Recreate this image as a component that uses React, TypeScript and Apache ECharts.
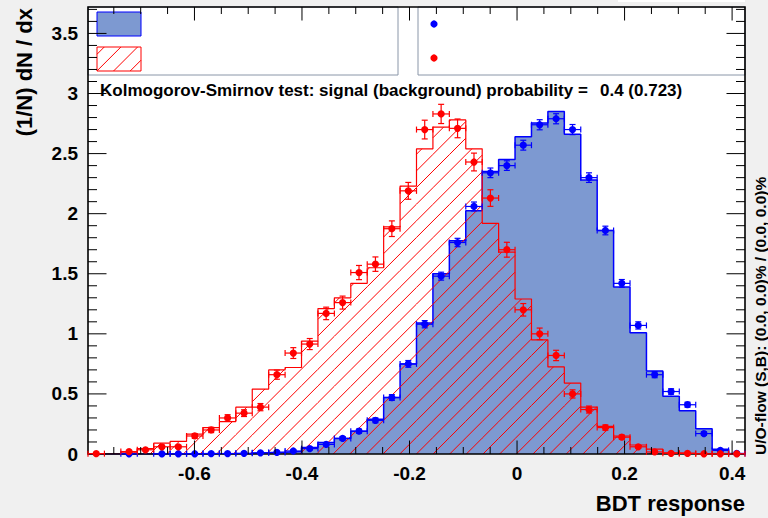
import React, { useEffect, useRef } from 'react';
import * as echarts from 'echarts';

// ---- axis ranges ----
const X_MIN = -0.798;
const X_MAX = 0.424;
const Y_MAX = 3.72;
const N_BINS = 40;
const BIN_W = (X_MAX - X_MIN) / N_BINS;

// ---- tick labels ----
const xTickLabels = [-0.6, -0.4, -0.2, 0, 0.2, 0.4];
const yTickLabels = [0, 0.5, 1, 1.5, 2, 2.5, 3, 3.5];

// ---- histograms (normalised, per bin) ----
const signalHist = [
  0, 0, 0, 0, 0, 0, 0, 0.002, 0.003, 0.005,
  0.01, 0.015, 0.02, 0.055, 0.095, 0.13, 0.19, 0.29, 0.47, 0.75,
  1.09, 1.5, 1.775, 2.025, 2.35, 2.45, 2.64, 2.755, 2.85, 2.66,
  2.28, 1.86, 1.39, 1.01, 0.69, 0.48, 0.36, 0.21, 0.04, 0.003,
];
const backgroundHist = [
  0, 0, 0.015, 0.045, 0.09, 0.105, 0.165, 0.22, 0.27, 0.39,
  0.54, 0.7, 0.72, 0.94, 1.21, 1.3, 1.42, 1.55, 1.89, 2.23,
  2.54, 2.72, 2.78, 2.54, 1.92, 1.68, 1.29, 0.95, 0.725, 0.59,
  0.39, 0.23, 0.15, 0.075, 0.04, 0.01, 0.005, 0.002, 0, 0,
];

// ---- points with errors (null = empty bin) ----
const signalPoints = [
  null, null, 0.002, null, 0.002, 0.002, 0.002, 0.004, 0.004, 0.006,
  0.01, 0.013, 0.025, 0.045, 0.08, 0.13, 0.19, 0.28, 0.47, 0.75,
  1.08, 1.48, 1.76, 2.06, 2.34, 2.4, 2.57, 2.74, 2.79, 2.7,
  2.3, 1.86, 1.42, 1.07, 0.66, 0.52, 0.41, 0.17, 0.03, 0.005,
];
const signalErrors = [
  0, 0, 0.003, 0, 0.003, 0.003, 0.003, 0.004, 0.004, 0.005,
  0.006, 0.007, 0.009, 0.011, 0.013, 0.015, 0.017, 0.02, 0.024, 0.028,
  0.03, 0.033, 0.035, 0.037, 0.04, 0.04, 0.041, 0.042, 0.042, 0.042,
  0.04, 0.036, 0.032, 0.03, 0.025, 0.023, 0.021, 0.015, 0.007, 0.004,
];
const backgroundPoints = [
  0.003, null, 0.02, 0.035, 0.06, 0.06, 0.15, 0.2, 0.3, 0.34,
  0.39, 0.66, 0.84, 0.915, 1.17, 1.26, 1.51, 1.58, 1.875, 2.19,
  2.7, 2.83, 2.71, 2.43, 2.13, 1.7, 1.2, 1.0, 0.82, 0.5,
  0.37, 0.22, 0.14, 0.06, 0.017, 0.006, 0.005, 0.002, 0.002, 0.002,
];
const backgroundErrors = [
  0.004, 0, 0.008, 0.01, 0.013, 0.013, 0.02, 0.022, 0.027, 0.028,
  0.03, 0.038, 0.045, 0.046, 0.052, 0.054, 0.059, 0.06, 0.065, 0.07,
  0.078, 0.08, 0.078, 0.074, 0.069, 0.062, 0.052, 0.048, 0.043, 0.034,
  0.029, 0.022, 0.018, 0.012, 0.006, 0.004, 0.004, 0.003, 0.003, 0.003,
];

// ---- texts ----
const yTitle = '(1/N) dN / dx';
const xTitle = 'BDT response';
const ksText = 'Kolmogorov-Smirnov test: signal (background) probability =';
const ksValue = '0.4 (0.723)';
const flowText = 'U/O-flow (S,B): (0.0, 0.0)% / (0.0, 0.0)%';

const FONT = "'Liberation Sans', Arial, Helvetica, sans-serif";
const SIG_LINE = '#0000ff';
const SIG_FILL = '#7d99d1';
const BKG = '#ff0000';
const HATCH_STEP = 16.65;

function histLine(values: number[]) {
  const out: number[][] = [];
  for (let i = 0; i < values.length; i++) out.push([X_MIN + i * BIN_W, values[i]]);
  out.push([X_MIN + values.length * BIN_W, values[values.length - 1]]);
  return out;
}

function pointData(values: (number | null)[], errs: number[]) {
  const out: number[][] = [];
  values.forEach((v, i) => {
    if (v !== null) out.push([X_MIN + (i + 0.5) * BIN_W, v, errs[i]]);
  });
  return out;
}

// diagonal "/" hatch segments inside a pixel rectangle
function hatchSegments(x0: number, x1: number, yTop: number, yBot: number, phase: number) {
  const segs: any[] = [];
  const cMin = x0 + yTop;
  const cMax = x1 + yBot;
  const kStart = Math.ceil((cMin - phase) / HATCH_STEP);
  for (let k = kStart; k * HATCH_STEP + phase <= cMax; k++) {
    const c = k * HATCH_STEP + phase;
    const xa = Math.max(x0, c - yBot);
    const xb = Math.min(x1, c - yTop);
    if (xb - xa > 0.05) {
      segs.push({
        type: 'line',
        shape: { x1: xa, y1: c - xa, x2: xb, y2: c - xb },
        style: { stroke: BKG, lineWidth: 1 },
      });
    }
  }
  return segs;
}

function makePointsRender(color: string) {
  return (_p: any, api: any) => {
    const xc = api.value(0);
    const y = api.value(1);
    const e = api.value(2);
    const c = api.coord([xc, y]);
    const l = api.coord([xc - BIN_W / 2, y]);
    const r = api.coord([xc + BIN_W / 2, y]);
    const t = api.coord([xc, y + e]);
    const b = api.coord([xc, y - e]);
    const cap = 3;
    const st = { stroke: color, lineWidth: 1.2 };
    return {
      type: 'group',
      children: [
        { type: 'line', shape: { x1: l[0], y1: c[1], x2: r[0], y2: c[1] }, style: st },
        { type: 'line', shape: { x1: l[0], y1: c[1] - cap, x2: l[0], y2: c[1] + cap }, style: st },
        { type: 'line', shape: { x1: r[0], y1: c[1] - cap, x2: r[0], y2: c[1] + cap }, style: st },
        { type: 'line', shape: { x1: c[0], y1: t[1], x2: c[0], y2: b[1] }, style: st },
        { type: 'line', shape: { x1: c[0] - cap, y1: t[1], x2: c[0] + cap, y2: t[1] }, style: st },
        { type: 'line', shape: { x1: c[0] - cap, y1: b[1], x2: c[0] + cap, y2: b[1] }, style: st },
        { type: 'circle', shape: { cx: c[0], cy: c[1], r: 3.6 }, style: { fill: color } },
      ],
    };
  };
}

export default function App() {
  const ref = useRef<HTMLDivElement>(null);
  useEffect(() => {
    if (!ref.current) return;
    const chart = echarts.init(ref.current, undefined, { renderer: 'svg' });

    const xTicks: number[][] = [];
    for (let k = -16; k <= 9; k++) {
      const v = Math.round(k * 5) / 100;
      if (v > X_MIN && v < X_MAX) xTicks.push([v, 0]);
    }
    const yTicks: number[][] = [];
    for (let k = 1; k <= 40; k++) {
      const v = k / 10;
      if (v < Y_MAX) yTicks.push([X_MIN, v]);
    }
    const bkgBins = backgroundHist.map((h, i) => [X_MIN + i * BIN_W, h]);

    const labelStyle = { color: '#000', fontSize: 19, fontWeight: 'bold', fontFamily: FONT };

    const legendHatch = hatchSegments(97, 141, 47, 71, 1.4);

    const option: any = {
      animation: false,
      backgroundColor: '#f0f0f0',
      grid: {
        left: 88, right: 23, top: 7, bottom: 64,
        show: true, backgroundColor: '#ffffff', borderWidth: 0,
      },
      xAxis: {
        type: 'value', min: X_MIN, max: X_MAX,
        axisLine: { show: false }, axisTick: { show: false }, splitLine: { show: false },
        axisLabel: { ...labelStyle, margin: 10, customValues: xTickLabels, formatter: (v: number) => String(v) },
      },
      yAxis: {
        type: 'value', min: 0, max: Y_MAX,
        axisLine: { show: false }, axisTick: { show: false }, splitLine: { show: false },
        axisLabel: { ...labelStyle, margin: 10, customValues: yTickLabels, formatter: (v: number) => String(v) },
      },
      series: [
        {
          type: 'line', step: 'end', data: histLine(signalHist), symbol: 'none', silent: true, z: 2,
          lineStyle: { color: SIG_LINE, width: 1.5 },
          areaStyle: { color: SIG_FILL, opacity: 1 },
        },
        {
          type: 'custom', z: 3, silent: true, data: bkgBins,
          renderItem: (_p: any, api: any) => {
            const x = api.value(0);
            const h = api.value(1);
            if (!(h > 0)) return { type: 'group', children: [] };
            const a = api.coord([x, h]);
            const b = api.coord([x + BIN_W, 0]);
            return { type: 'group', children: hatchSegments(a[0], b[0], a[1], b[1], 4.6) };
          },
        },
        {
          type: 'line', step: 'end', data: histLine(backgroundHist), symbol: 'none', silent: true, z: 3,
          lineStyle: { color: BKG, width: 1.2 },
        },
        {
          type: 'custom', z: 5, silent: true, data: [[X_MIN, 0]],
          renderItem: (_p: any, api: any) => {
            const a = api.coord([X_MIN, Y_MAX]);
            const b = api.coord([X_MAX, 0]);
            return {
              type: 'rect',
              shape: { x: a[0], y: a[1], width: b[0] - a[0], height: b[1] - a[1] },
              style: { fill: 'none', stroke: '#000', lineWidth: 1.6 },
            };
          },
        },
        { type: 'custom', z: 6, silent: true, data: pointData(signalPoints, signalErrors), renderItem: makePointsRender(SIG_LINE) },
        { type: 'custom', z: 7, silent: true, data: pointData(backgroundPoints, backgroundErrors), renderItem: makePointsRender(BKG) },
        {
          type: 'custom', z: 10, silent: true, data: xTicks,
          renderItem: (_p: any, api: any) => {
            const v = api.value(0);
            const major = Math.abs(v / 0.2 - Math.round(v / 0.2)) < 1e-6;
            const len = major ? 13.5 : 7;
            const b = api.coord([v, 0]);
            const t = api.coord([v, Y_MAX]);
            const st = { stroke: '#000', lineWidth: 1 };
            return {
              type: 'group',
              children: [
                { type: 'line', shape: { x1: b[0], y1: b[1], x2: b[0], y2: b[1] - len }, style: st },
                { type: 'line', shape: { x1: t[0], y1: t[1], x2: t[0], y2: t[1] + len }, style: st },
              ],
            };
          },
        },
        {
          type: 'custom', z: 10, silent: true, data: yTicks,
          renderItem: (_p: any, api: any) => {
            const v = api.value(1);
            const major = Math.abs(v / 0.5 - Math.round(v / 0.5)) < 1e-6;
            const len = major ? 18.5 : 9;
            const l = api.coord([X_MIN, v]);
            const r = api.coord([X_MAX, v]);
            const st = { stroke: '#000', lineWidth: 1 };
            return {
              type: 'group',
              children: [
                { type: 'line', shape: { x1: l[0], y1: l[1], x2: l[0] + len, y2: l[1] }, style: st },
                { type: 'line', shape: { x1: r[0], y1: r[1], x2: r[0] - len, y2: r[1] }, style: st },
              ],
            };
          },
        },
      ],
      graphic: [
        { type: 'rect', z: 4, shape: { x: 618, y: 0, width: 127, height: 2 }, style: { fill: '#ffffff' } },
        { type: 'rect', z: 4, shape: { x: 88, y: 7, width: 310, height: 68 }, style: { fill: '#ffffff', stroke: '#8a96a8', lineWidth: 1 } },
        { type: 'rect', z: 4, shape: { x: 418, y: 7, width: 327, height: 68 }, style: { fill: '#ffffff', stroke: '#8a96a8', lineWidth: 1 } },
        { type: 'rect', z: 4, shape: { x: 97, y: 12, width: 44, height: 24 }, style: { fill: SIG_FILL, stroke: SIG_LINE, lineWidth: 1 } },
        { type: 'group', z: 4, children: legendHatch.map((s) => ({ ...s, z: 4 })) },
        { type: 'rect', z: 4, shape: { x: 97, y: 47, width: 44, height: 24 }, style: { fill: 'none', stroke: BKG, lineWidth: 1 } },
        { type: 'circle', z: 4, shape: { cx: 434, cy: 24, r: 3.6 }, style: { fill: SIG_LINE } },
        { type: 'circle', z: 4, shape: { cx: 434, cy: 58, r: 3.6 }, style: { fill: BKG } },
        {
          type: 'text', z: 11, x: 100, y: 90.5,
          style: { text: ksText, fill: '#000', fontSize: 17, fontWeight: 'bold', fontFamily: FONT, align: 'left', verticalAlign: 'middle', textAlign: 'left', textVerticalAlign: 'middle' },
        },
        {
          type: 'text', z: 11, x: 600, y: 90.5,
          style: { text: ksValue, fill: '#000', fontSize: 17, fontWeight: 'bold', fontFamily: FONT, align: 'left', verticalAlign: 'middle', textAlign: 'left', textVerticalAlign: 'middle' },
        },
        {
          type: 'text', z: 11, x: 24, y: 8, rotation: Math.PI / 2,
          style: { text: yTitle, fill: '#000', fontSize: 22, fontWeight: 'bold', fontFamily: FONT, align: 'right', verticalAlign: 'middle', textAlign: 'right', textVerticalAlign: 'middle' },
        },
        {
          type: 'text', z: 11, x: 745, y: 503,
          style: { text: xTitle, fill: '#000', fontSize: 22, fontWeight: 'bold', fontFamily: FONT, align: 'right', verticalAlign: 'middle', textAlign: 'right', textVerticalAlign: 'middle' },
        },
        {
          type: 'text', z: 11, x: 760, y: 455, rotation: Math.PI / 2,
          style: { text: flowText, fill: '#000', fontSize: 15.5, fontWeight: 'bold', fontFamily: FONT, align: 'left', verticalAlign: 'middle', textAlign: 'left', textVerticalAlign: 'middle' },
        },
      ],
    };
    chart.setOption(option);
    return () => chart.dispose();
  }, []);

  return <div ref={ref} style={{ position: 'fixed', left: 0, top: 0, width: 768, height: 518 }} />;
}
